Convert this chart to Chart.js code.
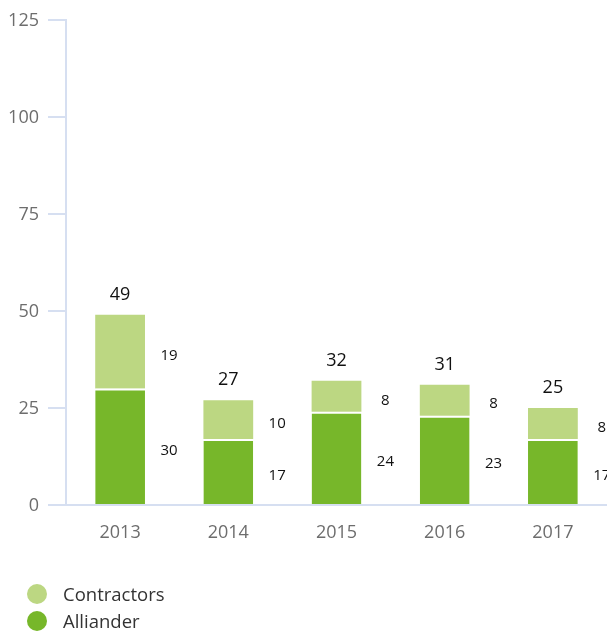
<!DOCTYPE html>
<html>
<head>
<meta charset="utf-8">
<script src="https://cdn.jsdelivr.net/npm/chart.js@4.4.1/dist/chart.umd.min.js"></script>
<style>
  html, body { margin: 0; padding: 0; background: #fff; }
  #wrap { position: relative; width: 607px; height: 635px; }
  #c { position: absolute; left: 0; top: 0; }
  .legend { position: absolute; left: 27px; top: 580px; font: 18.5px "Open Sans", sans-serif; color: #333; }
  .legend .item { display: flex; align-items: center; height: 27px; }
  .legend .dot { width: 20px; height: 20px; border-radius: 50%; margin-right: 16px; }
</style>
</head>
<body>
<div id="wrap">
  <canvas id="c" width="607" height="635"></canvas>
  <div class="legend" id="legend"></div>
</div>
<script>
// Incidents per year, split by who was involved
const years = ['2013', '2014', '2015', '2016', '2017'];
const alliander = [30, 17, 24, 23, 17];
const contractors = [19, 10, 8, 8, 8];
const yTicks = [0, 25, 50, 75, 100, 125];

const GREEN_DARK = '#77b72a';
const GREEN_LIGHT = '#bcd782';
const AXIS = '#d6dff1';
const FONT = '"Open Sans", sans-serif';

// Totals above each stack, segment values to the right of each bar
const valueLabels = {
  id: 'valueLabels',
  afterDatasetsDraw(chart) {
    const ctx = chart.ctx;
    const metaA = chart.getDatasetMeta(0);
    const metaC = chart.getDatasetMeta(1);
    ctx.save();
    ctx.textAlign = 'center';
    ctx.textBaseline = 'middle';
    ctx.fillStyle = '#111';
    years.forEach((_, i) => {
      const a = metaA.data[i];
      const c = metaC.data[i];
      const right = a.x + a.width / 2;
      ctx.font = '15px ' + FONT;
      ctx.fillText(String(alliander[i]), right + 24, (a.y + a.base) / 2 + 4);
      ctx.fillText(String(contractors[i]), right + 24, (c.y + c.base) / 2 + 4);
      ctx.font = '18px ' + FONT;
      ctx.fillText(String(alliander[i] + contractors[i]), a.x, c.y - 20);
    });
    ctx.restore();
  }
};

const chart = new Chart(document.getElementById('c'), {
  type: 'bar',
  data: {
    labels: years,
    datasets: [
      {
        label: 'Alliander',
        data: alliander,
        backgroundColor: GREEN_DARK,
        borderColor: '#fff',
        borderWidth: { top: 2, left: 0, right: 0, bottom: 0 },
        borderSkipped: false,
        barPercentage: 0.46,
        categoryPercentage: 1
      },
      {
        label: 'Contractors',
        data: contractors,
        backgroundColor: GREEN_LIGHT,
        borderWidth: 0,
        barPercentage: 0.46,
        categoryPercentage: 1
      }
    ]
  },
  options: {
    responsive: false,
    animation: false,
    devicePixelRatio: 1,
    layout: { padding: { top: 15, right: 0, left: 0, bottom: 0 } },
    plugins: {
      legend: { display: false },
      tooltip: { enabled: false }
    },
    scales: {
      x: {
        stacked: true,
        grid: { display: false, drawTicks: false },
        border: { color: AXIS, width: 2 },
        ticks: { padding: 17, color: '#6d6d6d', font: { family: FONT, size: 18 } },
        afterFit: s => { s.height = 130; }
      },
      y: {
        stacked: true,
        min: 0,
        max: 125,
        afterBuildTicks: s => { s.ticks = yTicks.map(v => ({ value: v })); },
        afterFit: s => { s.width = 66; },
        grid: { drawOnChartArea: false, drawTicks: true, tickLength: 18, color: AXIS, lineWidth: 2 },
        border: { color: AXIS, width: 2 },
        ticks: { padding: 9, labelOffset: 1, color: '#6d6d6d', font: { family: FONT, size: 18 } }
      }
    }
  },
  plugins: [valueLabels]
});

// Legend: top segment first
const legend = document.getElementById('legend');
[['Contractors', GREEN_LIGHT], ['Alliander', GREEN_DARK]].forEach(([name, color]) => {
  const item = document.createElement('div');
  item.className = 'item';
  const dot = document.createElement('span');
  dot.className = 'dot';
  dot.style.background = color;
  const txt = document.createElement('span');
  txt.textContent = name;
  item.appendChild(dot);
  item.appendChild(txt);
  legend.appendChild(item);
});
</script>
</body>
</html>
